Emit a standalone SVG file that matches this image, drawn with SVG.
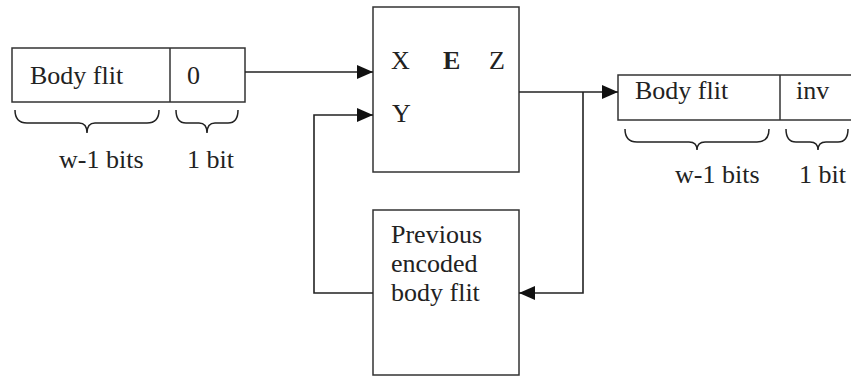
<svg xmlns="http://www.w3.org/2000/svg" width="851" height="377" viewBox="0 0 851 377">
<defs>
<style>
.box{fill:#fff;stroke:#333;stroke-width:1.5}
.ln{fill:none;stroke:#222;stroke-width:1.6}
.br{fill:none;stroke:#222;stroke-width:1.5}
.t{font-family:"Liberation Serif","DejaVu Serif",serif;font-size:26px;fill:#222}
.b{font-weight:bold}
</style>
<marker id="ah" markerWidth="16" markerHeight="14" refX="16" refY="7" orient="auto" markerUnits="userSpaceOnUse">
<path d="M0,0 L16,7 L0,14 Z" fill="#111"/>
</marker>
</defs>
<rect width="851" height="377" fill="#fff"/>
<g id="input-flit">
<rect class="box" x="12" y="48" width="233" height="54"/>
<line class="box" x1="170" y1="48" x2="170" y2="102"/>
<text class="t" x="30" y="84">Body flit</text>
<text class="t" x="187" y="84">0</text>
<path class="br" d="M15,110 Q15,123 27,123 L79,123 Q87,123 87,133 Q87,123 95,123 L147,123 Q159,123 159,110"/>
<path class="br" d="M176,110 Q176,123 186,123 L199,123 Q207,123 207,133 Q207,123 215,123 L228,123 Q238,123 238,110"/>
<text class="t" x="59" y="168">w-1 bits</text>
<text class="t" x="187" y="168">1 bit</text>
</g>
<g id="encoder">
<rect class="box" x="373" y="7" width="146" height="165"/>
<text class="t" x="391" y="69">X</text>
<text class="t b" x="443" y="69">E</text>
<text class="t" x="489" y="69">Z</text>
<text class="t" x="392" y="122">Y</text>
</g>
<g id="previous">
<rect class="box" x="373" y="210" width="146" height="165"/>
<text class="t" x="391" y="243">Previous</text>
<text class="t" x="391" y="272">encoded</text>
<text class="t" x="391" y="301">body flit</text>
</g>
<g id="output-flit">
<rect class="box" x="618" y="75" width="240" height="45"/>
<line class="box" x1="780" y1="75" x2="780" y2="120"/>
<text class="t" x="635" y="99">Body flit</text>
<text class="t" x="796" y="99">inv</text>
<path class="br" d="M625,129 Q625,142 637,142 L689,142 Q697,142 697,150 Q697,142 705,142 L757,142 Q769,142 769,129"/>
<path class="br" d="M786,129 Q786,142 796,142 L810,142 Q818,142 818,150 Q818,142 826,142 L838,142 Q848,142 848,129"/>
<text class="t" x="675" y="183">w-1 bits</text>
<text class="t" x="799" y="183">1 bit</text>
</g>
<g id="connectors">
<line class="ln" x1="245" y1="72" x2="373" y2="72" marker-end="url(#ah)"/>
<polyline class="ln" points="373,293 314,293 314,115 373,115" marker-end="url(#ah)"/>
<line class="ln" x1="519" y1="92" x2="618" y2="92" marker-end="url(#ah)"/>
<polyline class="ln" points="583,92 583,293 519,293" marker-end="url(#ah)"/>
</g>
</svg>
